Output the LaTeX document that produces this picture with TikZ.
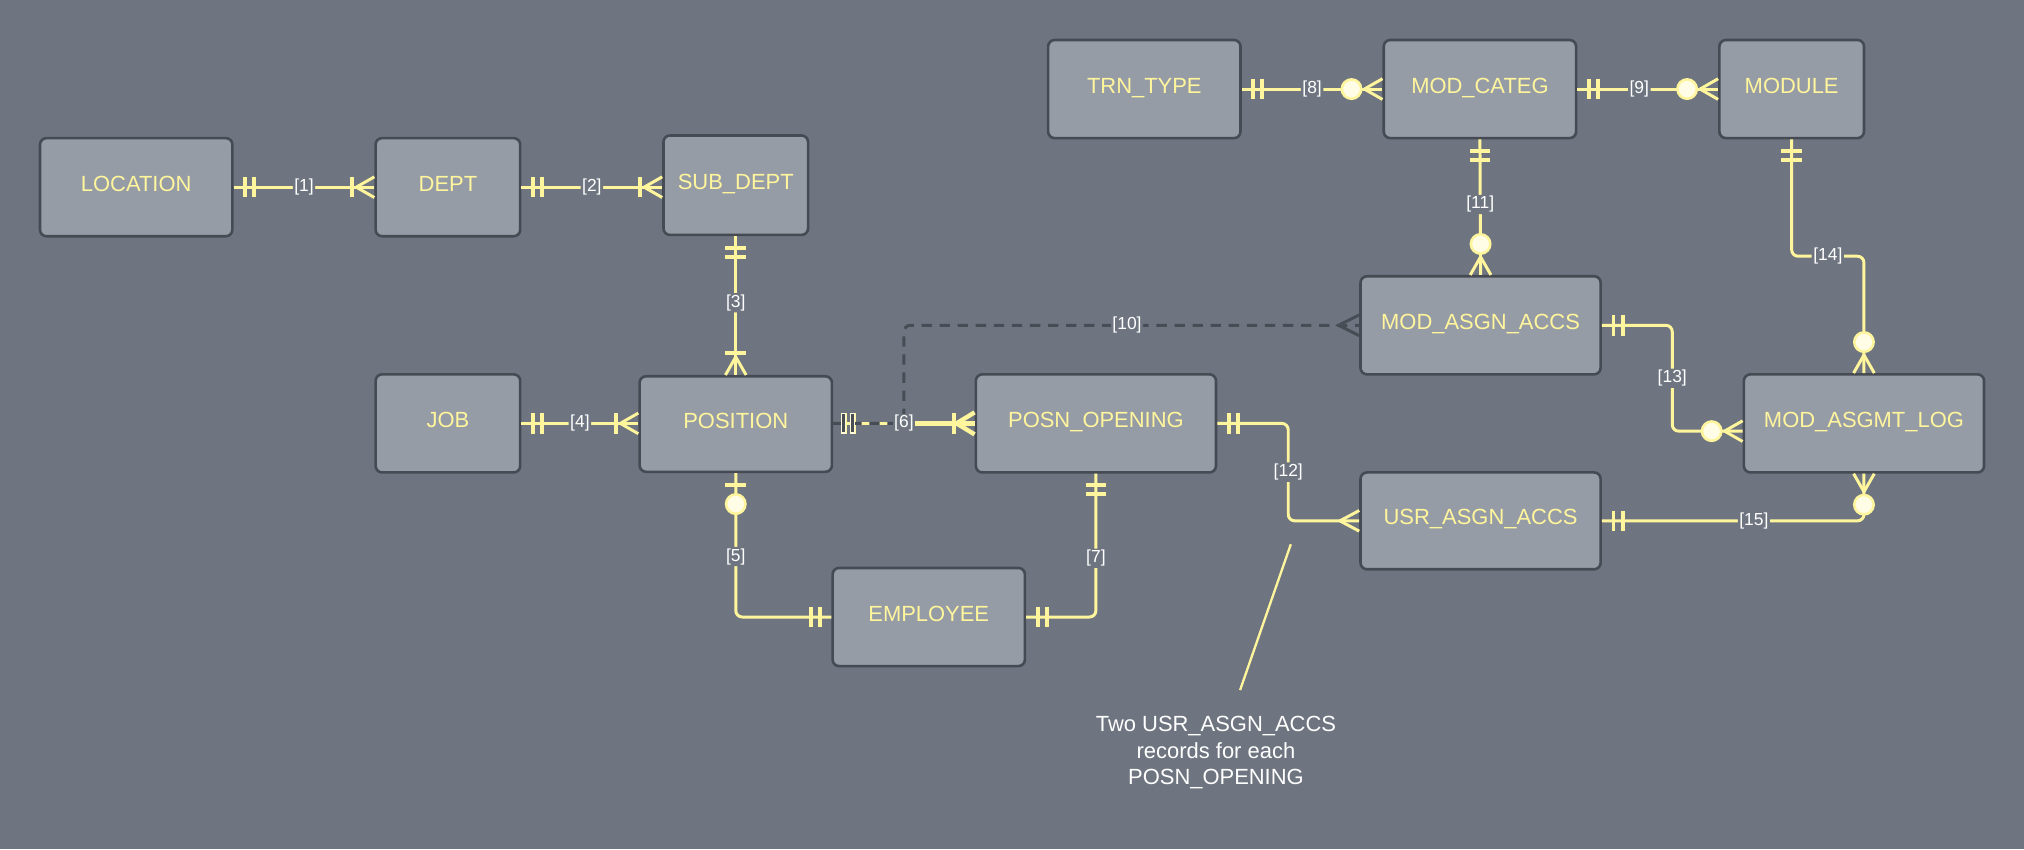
\documentclass[tikz,border=0pt]{standalone}
\usepackage{fontspec}
\setmainfont{Liberation Sans}
\usetikzlibrary{calc}
\definecolor{bg}{HTML}{6E7580}
\definecolor{boxfill}{HTML}{969CA6}
\definecolor{boxline}{HTML}{454A53}
\definecolor{ylw}{HTML}{FFF59D}
\definecolor{dashc}{HTML}{474C55}
\definecolor{circfill}{HTML}{FFFDE6}
\begin{document}
\begin{tikzpicture}[x=1pt,y=-1pt,
  box/.style={draw=boxline, line width=2pt, fill=boxfill, rounded corners=5pt,
    minimum height=76pt, inner sep=0pt, text=ylw,
    font=\fontsize{17}{20}\selectfont, text height=10pt, text depth=3.8pt},
  conn/.style={draw=ylw, line width=2.3pt, rounded corners=5pt},
  mk/.style={draw=ylw, line width=2.3pt},
  bar/.style={draw=ylw, line width=3pt},
  circ/.style={draw=ylw, line width=2pt, fill=circfill},
  lbl/.style={fill=bg, text=white, font=\fontsize{13.5}{15}\selectfont, inner sep=1.2pt},
  dashconn/.style={draw=dashc, line width=2.3pt, dash pattern=on 8pt off 6pt, rounded corners=5pt},
  noteline/.style={draw=ylw, line width=1.8pt},
  notetext/.style={text=white, align=center, font=\fontsize{17}{20.5}\selectfont},
  pics/one/.style={code={\draw[bar] (9,-8)--(9,8) (16,-8)--(16,8);}},
  pics/onemany/.style={code={\draw[mk] (0,-8)--(14,0)--(0,8); \draw[bar] (17,-8)--(17,8);}},
  pics/onemanythick/.style={code={\draw[mk, line width=3.4pt] (0,-8.5)--(14,0)--(0,8.5); \draw[bar, line width=3.6pt] (16,-8)--(16,8);}},
  pics/zeromany/.style={code={\draw[mk] (0,-8)--(14,0)--(0,8); \draw[circ] (24,0) circle (7.5);}},
  pics/zeroone/.style={code={\draw[bar] (9,-8)--(9,8); \draw[circ] (24,0) circle (7.5);}},
  pics/many/.style={code={\draw[mk] (0,-8)--(15,0)--(0,8);}},
  pics/darkone/.style={code={\draw[bar, draw=white!60!ylw, line width=4pt] (8,-8)--(8,8) (15,-8)--(15,8);
      \draw[draw=dashc, line width=2pt] (8,-7)--(8,7) (15,-7)--(15,7);}},
  pics/darkmany/.style={code={\draw[draw=dashc, line width=2.3pt] (0,-8)--(16,0)--(0,8);}},
]
\fill[bg] (0,0) rectangle (1568,658);
\useasboundingbox (0,0) rectangle (1568,658);

% entities
\node[box, minimum width=149pt] (loc)  at (105.5,145) {LOCATION};
\node[box, minimum width=112pt] (dept) at (347,145) {DEPT};
\node[box, minimum width=112pt, minimum height=77pt] (sub)  at (570,143.5) {SUB\_DEPT};
\node[box, minimum width=149pt] (trn)  at (886.5,69) {TRN\_TYPE};
\node[box, minimum width=149pt] (cat)  at (1146.5,69) {MOD\_CATEG};
\node[box, minimum width=112pt] (mod)  at (1388,69) {MODULE};
\node[box, minimum width=186pt] (maa)  at (1147,252) {MOD\_ASGN\_ACCS};
\node[box, minimum width=112pt] (job)  at (347,328) {JOB};
\node[box, minimum width=149pt, minimum height=74pt] (posn) at (570,328.5) {POSITION};
\node[box, minimum width=186pt] (po)   at (849,328) {POSN\_OPENING};
\node[box, minimum width=186pt] (mal)  at (1444,328) {MOD\_ASGMT\_LOG};
\node[box, minimum width=186pt, minimum height=75pt] (usr)  at (1147,403.5) {USR\_ASGN\_ACCS};
\node[box, minimum width=149pt] (emp)  at (719.5,478) {EMPLOYEE};

% [1]
\draw[conn] (loc.east) -- node[lbl]{[1]} (dept.west);
\pic at (loc.east) {one}; \pic[rotate=180] at (dept.west) {onemany};
% [2]
\coordinate (s2) at (dept.east -| sub.west);
\draw[conn] (dept.east) -- node[lbl]{[2]} (s2);
\pic at (dept.east) {one}; \pic[rotate=180] at (s2) {onemany};
% [3]
\draw[conn] (sub.south) -- node[lbl, pos=0.48]{[3]} (posn.north);
\pic[rotate=-90] at (sub.south) {one}; \pic[rotate=90] at (posn.north) {onemany};
% [4]
\coordinate (p4) at (job.east -| posn.west);
\draw[conn] (job.east) -- node[lbl]{[4]} (p4);
\pic at (job.east) {one}; \pic[rotate=180] at (p4) {onemany};
% [5]
\draw[conn] (posn.south) |- node[lbl, pos=0.29]{[5]} (emp.west);
\pic[rotate=-90] at (posn.south) {zeroone}; \pic[rotate=180] at (emp.west) {one};
% [6]
\coordinate (p6) at (po.west -| posn.east);
\coordinate (m6) at ($(p6)!.5!(po.west)$);
\draw[conn] (p6) -- (po.west);
\draw[conn, line width=3.6pt] (m6) -- (po.west);
\pic at (p6) {one}; \pic[rotate=180] at (po.west) {onemanythick};
% [7]
\draw[conn] (po.south) |- node[lbl, pos=0.295]{[7]} (emp.east);
\pic[rotate=-90] at (po.south) {one}; \pic at (emp.east) {one};
% [8]
\draw[conn] (trn.east) -- node[lbl]{[8]} (cat.west);
\pic at (trn.east) {one}; \pic[rotate=180] at (cat.west) {zeromany};
% [9]
\draw[conn] (cat.east) -- node[lbl, pos=0.44]{[9]} (mod.west);
\pic at (cat.east) {one}; \pic[rotate=180] at (mod.west) {zeromany};
% [10]
\draw[dashconn] (p6) -- (m6) |- node[lbl, pos=0.745]{[10]} (maa.west);
\pic at (p6) {darkone}; \pic[rotate=180] at (maa.west) {darkmany};
\node[lbl] (l6) at (m6) {[6]};
% [11]
\draw[conn] (cat.south) -- node[lbl, pos=0.48]{[11]} (maa.north);
\pic[rotate=-90] at (cat.south) {one}; \pic[rotate=90] at (maa.north) {zeromany};
% [12]
\draw[conn] (po.east) -| ($(po.east)!.5!(usr.west)$) node[lbl]{[12]} |- (usr.west);
\pic at (po.east) {one}; \pic[rotate=180] at (usr.west) {many};
% [13]
\coordinate (e13) at ($(mal.west)+(0,6)$);
\draw[conn] (maa.east) -| ($(maa.east)!.5!(e13)$) node[lbl]{[13]} |- (e13);
\pic at (maa.east) {one}; \pic[rotate=180] at (e13) {zeromany};
% [14]
\draw[conn] (mod.south) |- ($(mod.south)!.5!(mal.north)$) node[lbl]{[14]} -| (mal.north);
\pic[rotate=-90] at (mod.south) {one}; \pic[rotate=90] at (mal.north) {zeromany};
% [15]
\draw[conn] (usr.east) -| node[lbl, pos=0.29]{[15]} (mal.south);
\pic at (usr.east) {one}; \pic[rotate=-90] at (mal.south) {zeromany};

% note
\node[notetext] (note) at (942,583) {Two USR\_ASGN\_ACCS\\records for each\\POSN\_OPENING};
\coordinate (n1) at (1000,421.6);
\coordinate (n2) at (960.7,534.6);
\draw[noteline] (n1) -- (n2);
\end{tikzpicture}
\end{document}
